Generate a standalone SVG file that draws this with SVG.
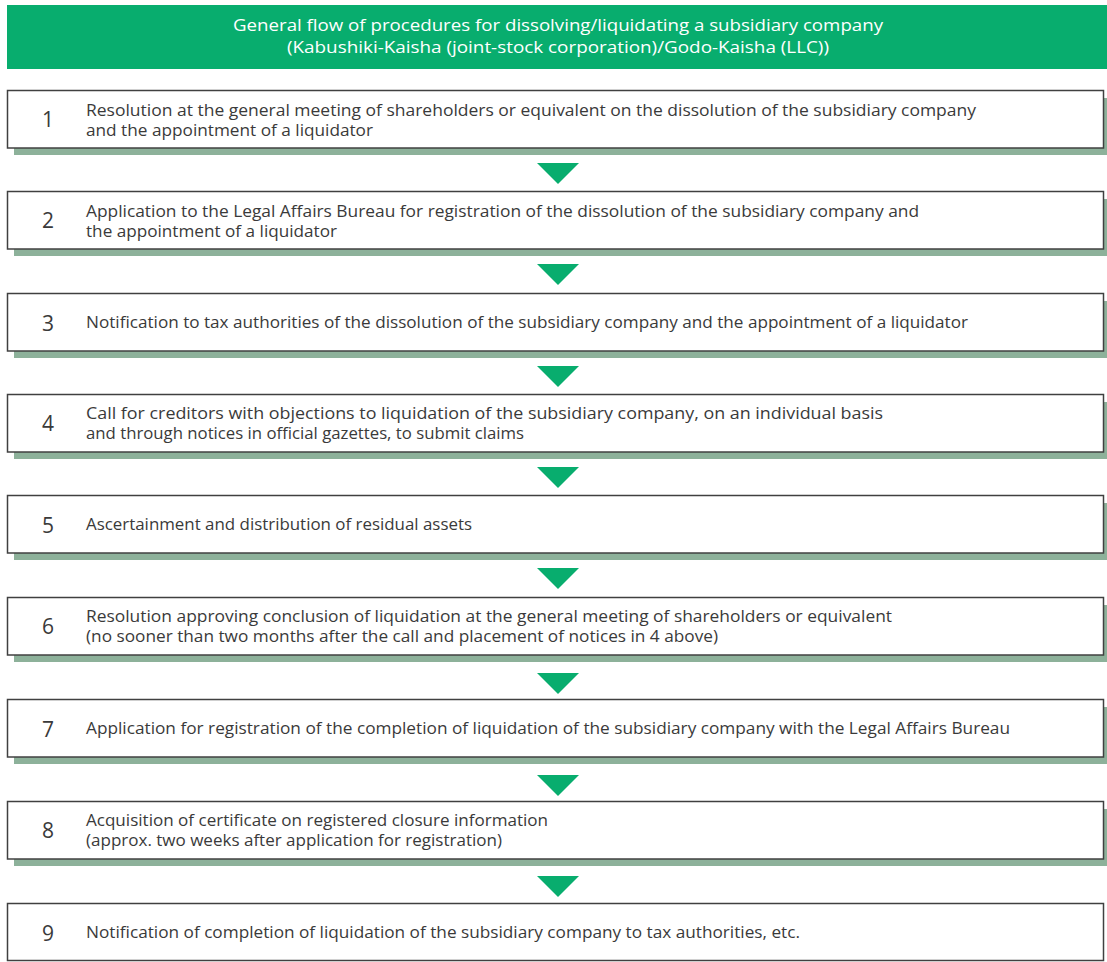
<svg xmlns="http://www.w3.org/2000/svg" width="1107" height="962" viewBox="0 0 1107 962">
<style>
.hdr{fill:#08ad6e}
.hdrt{font-family:"Open Sans","Liberation Sans",sans-serif;font-size:16px;fill:#ffffff;text-anchor:middle}
.box{fill:#ffffff;stroke:#404040;stroke-width:1.5}
.sh{fill:#8db19a}
.num{font-family:"Open Sans","Liberation Sans",sans-serif;font-size:21px;fill:#3a3a3a;text-anchor:middle}
.t{font-family:"Open Sans","Liberation Sans",sans-serif;font-size:16px;fill:#3a3a3a}
.arr{fill:#08ad6e}
</style>
<rect width="1107" height="962" fill="#ffffff"/>
<g id="header">
<rect class="hdr" x="7" y="5" width="1100" height="64"/>
<text class="hdrt" x="558" y="31" textLength="650" lengthAdjust="spacingAndGlyphs">General flow of procedures for dissolving/liquidating a subsidiary company</text>
<text class="hdrt" x="558" y="53" textLength="542" lengthAdjust="spacingAndGlyphs">(Kabushiki-Kaisha (joint-stock corporation)/Godo-Kaisha (LLC))</text>
</g>
<g id="step1">
<rect class="sh" x="14" y="98" width="1093" height="57"/>
<rect class="box" x="7.5" y="90.5" width="1096" height="57.5"/>
<text class="num" x="48" y="127">1</text>
<text class="t" x="86" y="116" textLength="890" lengthAdjust="spacingAndGlyphs">Resolution at the general meeting of shareholders or equivalent on the dissolution of the subsidiary company</text>
<text class="t" x="86" y="136" textLength="287" lengthAdjust="spacingAndGlyphs">and the appointment of a liquidator</text>
</g>
<g id="step2">
<rect class="sh" x="14" y="199" width="1093" height="57"/>
<rect class="box" x="7.5" y="191.5" width="1096" height="57.5"/>
<text class="num" x="48" y="228">2</text>
<text class="t" x="86" y="217" textLength="833" lengthAdjust="spacingAndGlyphs">Application to the Legal Affairs Bureau for registration of the dissolution of the subsidiary company and</text>
<text class="t" x="86" y="237" textLength="251" lengthAdjust="spacingAndGlyphs">the appointment of a liquidator</text>
</g>
<g id="step3">
<rect class="sh" x="14" y="301" width="1093" height="57"/>
<rect class="box" x="7.5" y="293.5" width="1096" height="57.5"/>
<text class="num" x="48" y="331">3</text>
<text class="t" x="86" y="328" textLength="882" lengthAdjust="spacingAndGlyphs">Notification to tax authorities of the dissolution of the subsidiary company and the appointment of a liquidator</text>
</g>
<g id="step4">
<rect class="sh" x="14" y="402" width="1093" height="57"/>
<rect class="box" x="7.5" y="394.5" width="1096" height="57.5"/>
<text class="num" x="48" y="431">4</text>
<text class="t" x="86" y="419" textLength="797" lengthAdjust="spacingAndGlyphs">Call for creditors with objections to liquidation of the subsidiary company, on an individual basis</text>
<text class="t" x="86" y="439" textLength="438" lengthAdjust="spacingAndGlyphs">and through notices in official gazettes, to submit claims</text>
</g>
<g id="step5">
<rect class="sh" x="14" y="503" width="1093" height="57"/>
<rect class="box" x="7.5" y="495.5" width="1096" height="57.5"/>
<text class="num" x="48" y="533">5</text>
<text class="t" x="86" y="530" textLength="386" lengthAdjust="spacingAndGlyphs">Ascertainment and distribution of residual assets</text>
</g>
<g id="step6">
<rect class="sh" x="14" y="605" width="1093" height="57"/>
<rect class="box" x="7.5" y="597.5" width="1096" height="57.5"/>
<text class="num" x="48" y="634">6</text>
<text class="t" x="86" y="622" textLength="806" lengthAdjust="spacingAndGlyphs">Resolution approving conclusion of liquidation at the general meeting of shareholders or equivalent</text>
<text class="t" x="86" y="642" textLength="632" lengthAdjust="spacingAndGlyphs">(no sooner than two months after the call and placement of notices in 4 above)</text>
</g>
<g id="step7">
<rect class="sh" x="14" y="707" width="1093" height="57"/>
<rect class="box" x="7.5" y="699.5" width="1096" height="57.5"/>
<text class="num" x="48" y="737">7</text>
<text class="t" x="86" y="734" textLength="924" lengthAdjust="spacingAndGlyphs">Application for registration of the completion of liquidation of the subsidiary company with the Legal Affairs Bureau</text>
</g>
<g id="step8">
<rect class="sh" x="14" y="809" width="1093" height="57"/>
<rect class="box" x="7.5" y="801.5" width="1096" height="57.5"/>
<text class="num" x="48" y="838">8</text>
<text class="t" x="86" y="826" textLength="462" lengthAdjust="spacingAndGlyphs">Acquisition of certificate on registered closure information</text>
<text class="t" x="86" y="846" textLength="416" lengthAdjust="spacingAndGlyphs">(approx. two weeks after application for registration)</text>
</g>
<g id="step9">
<rect class="box" x="7.5" y="903.5" width="1096" height="57"/>
<text class="num" x="48" y="941">9</text>
<text class="t" x="86" y="938" textLength="714" lengthAdjust="spacingAndGlyphs">Notification of completion of liquidation of the subsidiary company to tax authorities, etc.</text>
</g>
<g id="connectors">
<polygon class="arr" points="537,163 579,163 558,184"/>
<polygon class="arr" points="537,264 579,264 558,285"/>
<polygon class="arr" points="537,366 579,366 558,387"/>
<polygon class="arr" points="537,467 579,467 558,488"/>
<polygon class="arr" points="537,568 579,568 558,589"/>
<polygon class="arr" points="537,673 579,673 558,694"/>
<polygon class="arr" points="537,775 579,775 558,796"/>
<polygon class="arr" points="537,876 579,876 558,897"/>
</g>
</svg>
